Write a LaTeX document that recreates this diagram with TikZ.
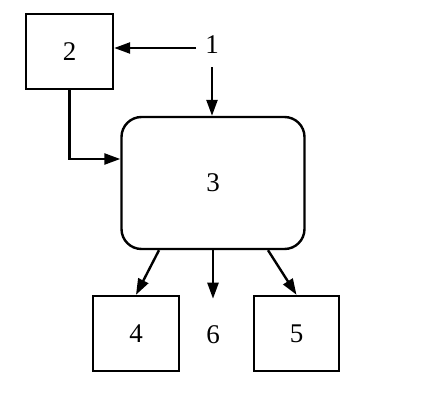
\documentclass[tikz,border=0pt]{standalone}
\usepackage{fontspec}
\setmainfont{Liberation Serif}
\usepackage{tikz}
\usetikzlibrary{arrows.meta, positioning, calc}

\begin{document}
\begin{tikzpicture}[
    x=1pt, y=-1pt,
    line width=2.4pt,
    box/.style={draw, line width=2.4pt, inner sep=0pt},
    lbl/.style={font=\fontsize{27}{32}\selectfont},
    flow/.style={-{Triangle[length=16pt, width=11pt]}},
]
    \useasboundingbox (0,0) rectangle (421,405);

    % boxes
    \node[box, lbl, minimum width=87pt, minimum height=75pt] (two) at (69.5, 51.5) {2};
    \node[box, lbl, rounded corners=20pt, minimum width=183pt, minimum height=132pt] (three) at (213, 183) {3};
    \node[box, lbl, minimum width=86pt, minimum height=75pt] (four) at (136, 333.5) {4};
    \node[box, lbl, minimum width=85pt, minimum height=75pt] (five) at (296.5, 333.5) {5};

    % free labels
    \node[lbl, inner sep=8pt] (one) at (212, 45) {1};
    \node[lbl, inner sep=2pt] (six) at (213, 335) {6};

    % input
    \draw[flow] ([yshift=-3pt]one.west) -- ([yshift=-3pt]one.west -| two.east);
    \draw[flow] ([yshift=-4pt]one.south) -- (one.south |- three.north);
    \draw[flow] (two.south) |- ([yshift=24pt]three.west);

    % outputs
    \draw[flow] ([xshift=-54pt]three.south) -- (four.north);
    \draw[flow] (three.south -| six.north) -- ([yshift=24pt]six.north);
    \draw[flow] ([xshift=55pt]three.south) -- (five.north);
\end{tikzpicture}
\end{document}
